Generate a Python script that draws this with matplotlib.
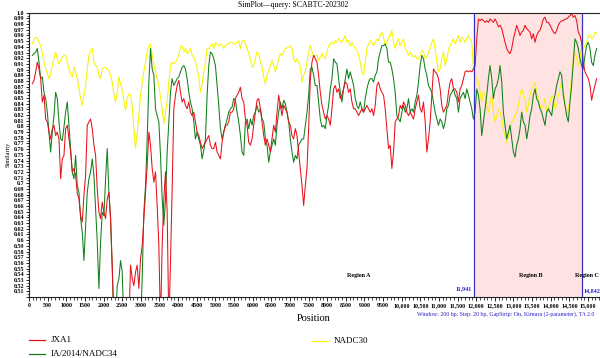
import numpy as np
import matplotlib
matplotlib.use("Agg")
from matplotlib import pyplot as plt
from matplotlib.lines import Line2D
from matplotlib.ticker import MultipleLocator, FuncFormatter

# similarity values (window 200 bp), left to right
# 0.45 = below the plotted range
jxa1 = [
    0.875, 0.881, 0.896, 0.913, 0.901, 0.884, 0.843, 0.855, 0.813, 0.808,
    0.790, 0.778, 0.796, 0.802, 0.784, 0.790, 0.778, 0.708, 0.743, 0.749,
    0.796, 0.802, 0.778, 0.755, 0.720, 0.726, 0.714, 0.682, 0.673, 0.643,
    0.632, 0.679, 0.714, 0.802, 0.808, 0.813, 0.796, 0.767, 0.749, 0.690,
    0.649, 0.638, 0.667, 0.649, 0.638, 0.673, 0.684, 0.638, 0.556,
    0.45, 0.45, 0.45, 0.45, 0.45, 0.45, 0.45, 0.45, 0.45, 0.45,
    0.556, 0.532, 0.520, 0.544, 0.556, 0.515, 0.567, 0.591, 0.638, 0.684,
    0.731, 0.790, 0.767, 0.726, 0.702, 0.720, 0.661, 0.591, 0.45, 0.591,
    0.673, 0.720, 0.649, 0.45, 0.561, 0.690,
    0.831, 0.855, 0.872, 0.881, 0.860, 0.843, 0.849, 0.837, 0.831, 0.843,
    0.825, 0.819, 0.825, 0.808, 0.790, 0.784, 0.772, 0.761, 0.767, 0.772,
    0.778, 0.784, 0.767, 0.761, 0.761, 0.772, 0.755, 0.749, 0.743, 0.772,
    0.790, 0.802, 0.802, 0.808, 0.825, 0.825, 0.831, 0.849, 0.855, 0.860,
    0.869, 0.849, 0.843, 0.813, 0.802, 0.772, 0.767, 0.778, 0.802, 0.825,
    0.846, 0.849, 0.831, 0.808, 0.784, 0.767, 0.778, 0.767, 0.755, 0.778,
    0.802, 0.790, 0.825, 0.855, 0.837, 0.819, 0.837, 0.831, 0.825, 0.808,
    0.802, 0.784, 0.778, 0.796, 0.784, 0.755, 0.726, 0.696, 0.661, 0.696,
    0.726, 0.796, 0.884, 0.913, 0.925, 0.919,
    0.913, 0.890, 0.860, 0.837, 0.825, 0.813, 0.819, 0.813, 0.802, 0.831,
    0.866, 0.872, 0.860, 0.866, 0.849, 0.855, 0.866, 0.878, 0.875, 0.860,
    0.866, 0.843, 0.831, 0.831, 0.825, 0.819, 0.825, 0.831, 0.825, 0.831,
    0.837, 0.831, 0.825, 0.831, 0.819, 0.837, 0.872, 0.878, 0.866, 0.860,
    0.855, 0.831, 0.796, 0.761, 0.767, 0.726, 0.755, 0.808, 0.813, 0.819,
    0.837, 0.831, 0.843, 0.837, 0.825, 0.819, 0.825, 0.819, 0.813, 0.831,
    0.843, 0.855, 0.831, 0.825, 0.843, 0.808, 0.755, 0.778, 0.808, 0.855,
    0.901, 0.896, 0.893, 0.884, 0.866, 0.837, 0.825, 0.831, 0.837, 0.860,
    0.878, 0.884, 0.866, 0.866, 0.860, 0.843,
    0.866, 0.872, 0.884, 0.896, 0.898, 0.896, 0.898, 0.896, 0.901, 0.907,
    0.954, 0.989, 0.986, 0.989, 0.986, 0.983, 0.986, 0.983, 0.989, 0.986,
    0.983, 0.989, 0.983, 0.975, 0.978, 0.972, 0.960, 0.948, 0.937, 0.931,
    0.928, 0.937, 0.954, 0.966, 0.978, 0.969, 0.960, 0.966, 0.969, 0.978,
    0.972, 0.969, 0.966, 0.954, 0.963, 0.948, 0.960, 0.966, 0.969, 0.978,
    0.989, 0.992, 0.983, 0.983, 0.978, 0.972, 0.966, 0.963, 0.969, 0.978,
    0.983, 0.986, 0.986, 0.989, 0.989, 0.992, 0.995, 0.998, 0.992, 0.995,
    0.986, 0.966, 0.960, 0.948, 0.913, 0.896, 0.890, 0.884, 0.872, 0.846,
    0.860, 0.872, 0.884,
]

nadc34 = [
    0.925, 0.928, 0.931, 0.937, 0.913, 0.884, 0.887, 0.860, 0.849, 0.825,
    0.790, 0.755, 0.790, 0.819, 0.860, 0.849, 0.808, 0.778, 0.775, 0.799,
    0.825, 0.843, 0.802, 0.761, 0.720, 0.708, 0.749, 0.696, 0.684, 0.638,
    0.614, 0.564, 0.626, 0.684, 0.708, 0.720, 0.743, 0.714, 0.655, 0.597,
    0.515, 0.597, 0.649, 0.643, 0.708, 0.761, 0.684, 0.638, 0.550, 0.45,
    0.45, 0.520, 0.532, 0.564, 0.544,
    0.45, 0.45, 0.45, 0.45, 0.45, 0.45, 0.45, 0.45, 0.45, 0.45, 0.45,
    0.532, 0.649, 0.696, 0.778, 0.878, 0.937, 0.901, 0.890, 0.831, 0.819,
    0.808, 0.749, 0.673, 0.626, 0.673, 0.755, 0.808, 0.860, 0.884,
    0.872, 0.878, 0.884, 0.887, 0.896, 0.904, 0.907, 0.901, 0.884, 0.860,
    0.843, 0.831, 0.808, 0.778, 0.790, 0.778, 0.767, 0.743, 0.758, 0.778,
    0.855, 0.907, 0.931, 0.928, 0.919, 0.907, 0.872, 0.837, 0.796, 0.778,
    0.790, 0.802, 0.813, 0.825, 0.831, 0.834, 0.849, 0.846, 0.825, 0.808,
    0.784, 0.755, 0.749, 0.808, 0.813, 0.796, 0.813, 0.802, 0.819, 0.825,
    0.837, 0.825, 0.831, 0.813, 0.808, 0.778, 0.767, 0.737, 0.755, 0.767,
    0.778, 0.767, 0.802, 0.825, 0.843, 0.831, 0.846, 0.840, 0.825, 0.808,
    0.778, 0.755, 0.737, 0.749, 0.743, 0.767, 0.772, 0.778, 0.778, 0.802,
    0.825, 0.855, 0.901, 0.904, 0.890, 0.872,
    0.872, 0.843, 0.813, 0.799, 0.802, 0.796, 0.819, 0.837, 0.866, 0.884,
    0.919, 0.913, 0.910, 0.884, 0.860, 0.843, 0.866, 0.884, 0.901, 0.884,
    0.896, 0.884, 0.872, 0.849, 0.837, 0.831, 0.843, 0.831, 0.825, 0.849,
    0.866, 0.878, 0.884, 0.884, 0.878, 0.890, 0.896, 0.919, 0.931, 0.942,
    0.942, 0.945, 0.937, 0.913, 0.913, 0.901, 0.884, 0.860, 0.819, 0.813,
    0.808, 0.825, 0.837, 0.825, 0.831, 0.849, 0.825, 0.831, 0.825, 0.843,
    0.855, 0.878, 0.907, 0.925, 0.919, 0.901, 0.890, 0.872, 0.866, 0.860,
    0.843, 0.825, 0.813, 0.802, 0.813, 0.808, 0.796, 0.808, 0.831, 0.837,
    0.855, 0.860, 0.866, 0.855, 0.849, 0.825,
    0.849, 0.855, 0.860, 0.849, 0.866, 0.855, 0.843, 0.831, 0.813, 0.825,
    0.866, 0.855, 0.831, 0.784, 0.808, 0.831, 0.855, 0.884, 0.907, 0.884,
    0.849, 0.866, 0.872, 0.884, 0.907, 0.878, 0.825, 0.802, 0.778, 0.790,
    0.802, 0.778, 0.755, 0.746, 0.767, 0.778, 0.796, 0.825, 0.808, 0.802,
    0.778, 0.796, 0.819, 0.831, 0.855, 0.866, 0.849, 0.843, 0.831, 0.825,
    0.813, 0.802, 0.825, 0.831, 0.825, 0.819, 0.843, 0.855, 0.872, 0.884,
    0.896, 0.890, 0.855, 0.837, 0.819, 0.808, 0.843, 0.872, 0.913, 0.954,
    0.948, 0.937, 0.919, 0.907, 0.901, 0.925, 0.942, 0.948, 0.937, 0.913,
    0.907, 0.925, 0.937,
]

nadc30 = [
    0.945, 0.954, 0.957, 0.955, 0.948, 0.942, 0.928, 0.913, 0.901, 0.893,
    0.884, 0.893, 0.907, 0.919, 0.931, 0.919, 0.910, 0.916, 0.922, 0.925,
    0.925, 0.913, 0.901, 0.893, 0.887, 0.904, 0.896, 0.884, 0.866, 0.849,
    0.837, 0.855, 0.872, 0.901, 0.925, 0.934, 0.937, 0.913, 0.907, 0.904,
    0.890, 0.884, 0.901, 0.904, 0.904, 0.901, 0.898, 0.890, 0.878, 0.855,
    0.843, 0.860, 0.887, 0.875, 0.863, 0.846, 0.828, 0.849, 0.857, 0.855,
    0.837, 0.796, 0.761, 0.790, 0.819, 0.855, 0.878, 0.896, 0.913, 0.931,
    0.942, 0.945, 0.925, 0.910, 0.896, 0.884, 0.872, 0.852, 0.831, 0.805,
    0.825, 0.843, 0.878, 0.907, 0.913,
    0.910, 0.913, 0.919, 0.925, 0.939, 0.942, 0.931, 0.937, 0.928, 0.931,
    0.937, 0.925, 0.922, 0.913, 0.901, 0.887, 0.860, 0.875, 0.896, 0.913,
    0.937, 0.937, 0.942, 0.945, 0.937, 0.948, 0.945, 0.942, 0.945, 0.942,
    0.937, 0.942, 0.945, 0.945, 0.948, 0.948, 0.945, 0.945, 0.948, 0.951,
    0.937, 0.951, 0.951, 0.945, 0.937, 0.928, 0.919, 0.904, 0.907, 0.919,
    0.931, 0.928, 0.913, 0.904, 0.887, 0.875, 0.890, 0.898, 0.907, 0.916,
    0.907, 0.896, 0.907, 0.919, 0.928, 0.925, 0.931, 0.937, 0.938, 0.939,
    0.942, 0.937, 0.919, 0.913, 0.919, 0.913, 0.904, 0.878, 0.890, 0.896,
    0.913, 0.931, 0.942, 0.931, 0.922, 0.925,
    0.925, 0.916, 0.922, 0.928, 0.922, 0.919, 0.931, 0.942, 0.945, 0.948,
    0.945, 0.951, 0.948, 0.954, 0.951, 0.948, 0.954, 0.960, 0.948, 0.951,
    0.942, 0.948, 0.942, 0.937, 0.934, 0.925, 0.913, 0.896, 0.890, 0.913,
    0.937, 0.945, 0.951, 0.948, 0.942, 0.948, 0.954, 0.951, 0.960, 0.966,
    0.957, 0.942, 0.948, 0.957, 0.960, 0.969, 0.948, 0.937, 0.948, 0.954,
    0.942, 0.948, 0.954, 0.937, 0.931, 0.925, 0.931, 0.925, 0.922, 0.925,
    0.919, 0.919, 0.925, 0.934, 0.931, 0.919, 0.922, 0.931, 0.937, 0.948,
    0.954, 0.937, 0.913, 0.896, 0.901, 0.919, 0.931, 0.907, 0.919, 0.934,
    0.942, 0.948, 0.954, 0.945, 0.951, 0.960,
    0.948, 0.957, 0.954, 0.948, 0.954, 0.960, 0.954, 0.948, 0.901, 0.890,
    0.884, 0.878, 0.860, 0.843, 0.860, 0.855, 0.837, 0.825, 0.843, 0.855,
    0.825, 0.808, 0.819, 0.831, 0.825, 0.813, 0.796, 0.784, 0.772, 0.784,
    0.796, 0.808, 0.813, 0.819, 0.825, 0.837, 0.855, 0.866, 0.855, 0.849,
    0.825, 0.837, 0.855, 0.866, 0.872, 0.878, 0.860, 0.849, 0.837, 0.831,
    0.837, 0.849, 0.825, 0.831, 0.843, 0.855, 0.849, 0.831, 0.837, 0.855,
    0.866, 0.878, 0.866, 0.837, 0.819, 0.831, 0.849, 0.890, 0.919, 0.931,
    0.919, 0.907, 0.919, 0.937, 0.937, 0.942, 0.948, 0.960, 0.960, 0.954,
    0.957, 0.966, 0.963,
]

series = [("JXA1", jxa1, "#e8101a"),
          ("IA/2014/NADC34", nadc34, "#11801a"),
          ("NADC30", nadc30, "#f8f400")]

# breakpoints between regions
bp1, bp2 = 11941, 14842
regions = [("Region A", 8854), ("Region B", 13469), ("Region C", 14972)]

plt.rcParams['font.family'] = ['Liberation Serif', 'DejaVu Serif']

fig = plt.figure(figsize=(6, 3.58), dpi=100)
ax = fig.add_axes([0.0483, 0.1704, 0.9517, 0.7941])

ax.axvspan(bp1, bp2, color="#ffe3e3", lw=0, zorder=0)
# draw yellow first so red/green sit on top
for name, vals, col in [series[2], series[1], series[0]]:
    pos = np.linspace(90, 15230, len(vals))
    ax.plot(pos, vals, color=col, lw=0.75, zorder=2)
ax.axvline(bp1, color="#3a30c0", lw=0.9, zorder=3)
ax.axvline(bp2, color="#3a30c0", lw=0.9, zorder=3)

ax.set_xlim(0, 15321)
ax.set_ylim(0.5, 1.0)

ax.xaxis.set_major_locator(MultipleLocator(500))
ax.xaxis.set_minor_locator(MultipleLocator(100))
ax.xaxis.set_major_formatter(FuncFormatter(
    lambda v, p: f"{int(v):,}" if v >= 10000 else f"{int(v)}"))
ax.yaxis.set_major_locator(MultipleLocator(0.01))
ax.yaxis.set_minor_locator(MultipleLocator(0.005))
ax.yaxis.set_major_formatter(FuncFormatter(
    lambda v, p: "" if v < 0.505 else ("1.0" if v > 0.995 else f"{round(v, 2):g}")))

ax.tick_params(axis="x", which="major", length=3, width=0.6, labelsize=4.3, pad=1.5)
ax.tick_params(axis="x", which="minor", length=2, width=0.5)
ax.tick_params(axis="y", which="major", length=2.5, width=0.6, labelsize=4.3, pad=1)
ax.tick_params(axis="y", which="minor", length=1.5, width=0.5)
for lab in ax.get_xticklabels() + ax.get_yticklabels():
    lab.set_fontweight("bold")

ax.spines["right"].set_visible(False)
for s in ["left", "top", "bottom"]:
    ax.spines[s].set_linewidth(0.8)
    ax.spines[s].set_color("#222222")

for name, x in regions:
    ax.text(x, 0.537, name, fontsize=4.3, fontweight="bold", ha="center", va="center")
ax.text(bp1 - 60, 0.514, "11,941", fontsize=4.3, fontweight="bold", color="#2a20c0",
        ha="right", va="center")
ax.text(bp2 + 40, 0.511, "14,842", fontsize=4.3, fontweight="bold", color="#2a20c0",
        ha="left", va="center")

ax.set_ylabel("Similarity", fontsize=4.5, labelpad=2)

fig.text(0.488, 0.986, "SimPlot\u2014query: SCABTC-202302", fontsize=5.6,
         ha="center", va="center")
fig.text(0.523, 0.109, "Position", fontsize=7.5, ha="center", va="center")
fig.text(0.99, 0.123, "Window: 200 bp, Step: 20 bp, GapStrip: On, Kimura (2-parameter), T/t 2.0",
         fontsize=4.2, color="#2a20c0", ha="right", va="center")

# legend, laid out as in the figure
leg = [(0.048, 0.075, 0.050, "JXA1", series[0][2]),
       (0.048, 0.075, 0.011, "IA/2014/NADC34", series[1][2]),
       (0.520, 0.547, 0.048, "NADC30", series[2][2])]
for x0, x1, y, name, col in leg:
    fig.add_artist(Line2D([x0, x1], [y, y], color=col, lw=0.9, transform=fig.transFigure))
    fig.text(x1 + 0.009, y, name, fontsize=6.5, ha="left", va="center")

fig.savefig("out.png", dpi=100)
